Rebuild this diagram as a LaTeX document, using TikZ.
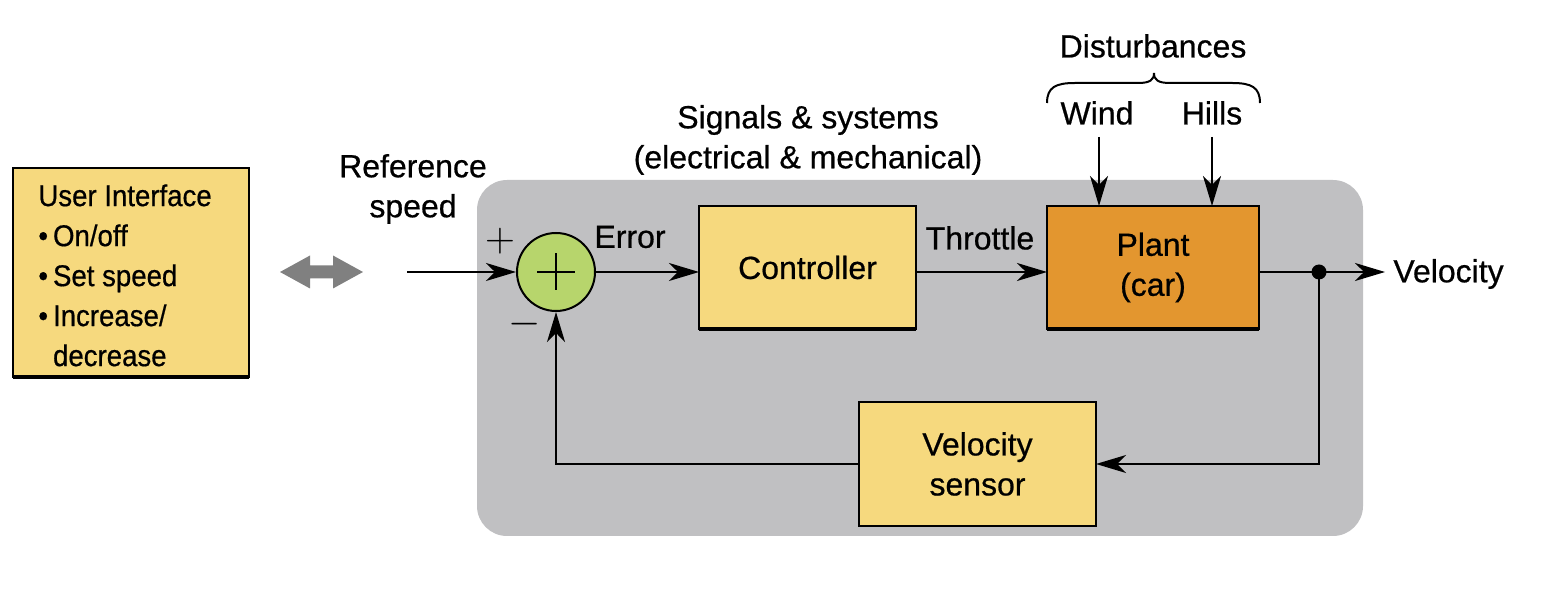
\documentclass[tikz,border=0pt]{standalone}
\usepackage{fontspec}
\setmainfont{Liberation Sans}[FakeBold=0.6]
\newfontfamily\uifont{Liberation Sans}[FakeStretch=0.92,FakeBold=0.6]
\usetikzlibrary{arrows.meta}
\definecolor{panelgray}{HTML}{C0C0C2}
\definecolor{boxyellow}{HTML}{F6D97E}
\definecolor{plantorange}{HTML}{E3962F}
\definecolor{sumgreen}{HTML}{B7D56C}
\definecolor{dblgray}{HTML}{808080}
\begin{document}
\begin{tikzpicture}[x=0.5pt,y=-0.5pt,
  lbl/.style={font=\fontsize{16}{20}\selectfont, inner sep=0pt, align=center},
  blk/.style={draw=black, line width=1pt, inner sep=0pt, outer sep=0pt, align=center, font=\fontsize{16}{20}\selectfont},
  arr/.style={draw=black, line width=0.8pt, -{Stealth[length=15pt,width=9pt,inset=4.5pt]}},
  harr/.style={arr, line width=1.4pt},
  sgn/.style={inner sep=0pt, font=\fontsize{20}{20}\selectfont}
]
\useasboundingbox (0,0) rectangle (1558,592);
% panel
\fill[panelgray, rounded corners=15pt] (477,180) rectangle (1363,536);

% user interface
\node[blk, fill=boxyellow, minimum width=118pt, minimum height=104.5pt] (ui) at (131,272.5) {};
\draw[line width=1.6pt] (ui.south west) -- (ui.south east);
\node[anchor=north west, inner sep=0pt, align=left, font=\uifont\fontsize{15}{20}\selectfont] (uitext) at (38,184)
  {User Interface\\\textbullet\hspace{2.5pt}On/off\\\textbullet\hspace{2.5pt}Set speed\\\textbullet\hspace{2.5pt}Increase/\\\phantom{\textbullet}\hspace{2.5pt}decrease};

% double arrow
\fill[dblgray] (280,272) -- (310,255.5) -- (310,265.5) -- (333,265.5) -- (333,255.5) -- (363,272)
  -- (333,288.5) -- (333,278.5) -- (310,278.5) -- (310,288.5) -- cycle;

% blocks
\node[circle, draw=black, line width=1pt, fill=sumgreen, minimum size=39pt, inner sep=0pt] (sum) at (556,272) {};
\draw[line width=0.8pt] (sum.center) ++(-19,0) -- ++(38,0);
\draw[line width=0.8pt] (sum.center) ++(0,-18.5) -- ++(0,37);
\node[blk, fill=boxyellow, minimum width=108.5pt, minimum height=61.5pt] (ctrl) at (807.5,267.5) {Controller};
\draw[line width=1.6pt] (ctrl.south west) -- (ctrl.south east);
\node[blk, fill=plantorange, minimum width=106pt, minimum height=61.5pt] (plant) at (1153,267.5) {Plant\\(car)};
\draw[line width=1.6pt] (plant.south west) -- (plant.south east);
\node[blk, fill=boxyellow, minimum width=118.5pt, minimum height=62pt] (sensor) at (977.5,464) {Velocity\\sensor};
\node[circle, fill=black, minimum size=7.5pt, inner sep=0pt] (tap) at (1319,272) {};

% labels
\node[lbl] (refspeed) at (413,189) {Reference\\speed};
\node[lbl] (sigsys) at (808,140) {Signals \& systems\\(electrical \& mechanical)};
\node[lbl] (dist) at (1153,46) {Disturbances};
\node[lbl] (wind) at (1097,113) {Wind};
\node[lbl] (hills) at (1212,113) {Hills};
\node[lbl] (err) at (630,237) {Error};
\node[lbl] (thr) at (980,238) {Throttle};
\node[lbl, anchor=west] (vel) at (1393,274) {Velocity};
\node[sgn] (plus) at (500,241) {$+$};
\node[sgn] (minus) at (525,324) {$-$};

% brace
\draw[line width=1pt] (1047,103) .. controls (1047,87) and (1056,83) .. (1075,83) -- (1138,83)
  .. controls (1150,83) and (1154,80) .. (1154,73) .. controls (1154,80) and (1158,83) .. (1170,83)
  -- (1232,83) .. controls (1251,83) and (1260,87) .. (1260,103);

% connectors
\coordinate (refin) at (407,272);
\coordinate (vout) at (1385,272);
\coordinate (wtop) at (1099,137);
\coordinate (htop) at (1212,137);
\draw[arr] (refin) -- (sum.west);
\draw[arr] (sum.east) -- (sum.east -| ctrl.west);
\draw[arr] (sum.east -| ctrl.east) -- (sum.east -| plant.west);
\draw[arr] (sum.east -| plant.east) -- (vout);
\draw[arr] (tap.center) |- (sensor.east);
\draw[arr] (sensor.west) -| (sum.south);
\draw[arr] (wtop) -- (wtop |- plant.north);
\draw[harr] (htop) -- (htop |- plant.north);
\end{tikzpicture}
\end{document}
